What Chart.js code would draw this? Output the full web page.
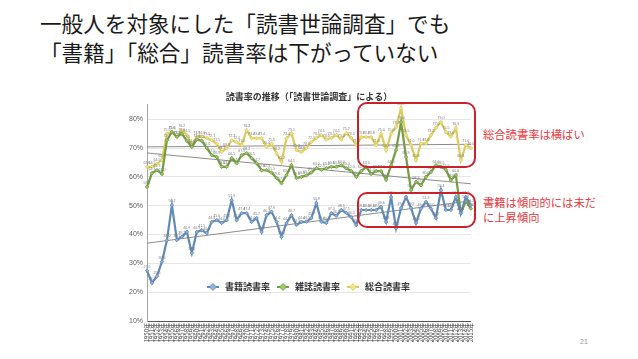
<!DOCTYPE html>
<html lang="ja">
<head>
<meta charset="utf-8">
<script src="https://cdn.jsdelivr.net/npm/chart.js@4.4.1/dist/chart.umd.min.js"></script>
<style>
  body { margin: 0; width: 638px; height: 359px; background: #fff; position: relative; overflow: hidden; font-family: "Noto Sans CJK JP", sans-serif; }
  .headline { position: absolute; left: 40px; font-size: 21.6px; line-height: 29px; color: #1a1a1a; white-space: nowrap; }
  #chartWrap { position: absolute; left: 110px; top: 86px; width: 370px; height: 264px; }
  .redbox { position: absolute; box-sizing: border-box; border: 2px solid #c8232c; border-radius: 10px; }
  .note { position: absolute; left: 483px; font-size: 11.3px; line-height: 15px; color: #e8383d; white-space: nowrap; }
  .pageno { position: absolute; left: 580px; top: 338px; font-size: 7px; color: #999; font-family: "Liberation Sans", sans-serif; }
</style>
</head>
<body>
<div class="headline" style="top:8px">一般人を対象にした「読書世論調査」でも</div>
<div class="headline" style="top:37px">「書籍」「総合」読書率は下がっていない</div>

<div id="chartWrap"><canvas id="readingChart" width="370" height="264"></canvas></div>

<div class="redbox" style="left:357px; top:102px; width:119px; height:66px;"></div>
<div class="redbox" style="left:357px; top:192px; width:119px; height:36px;"></div>
<div class="note" style="top:127px">総合読書率は横ばい</div>
<div class="note" style="top:195px">書籍は傾向的には未だ<br>に上昇傾向</div>
<div class="pageno">21</div>

<script>
const years = [
  '1950年', '1951年', '1952年', '1953年', '1954年', '1955年', '1956年', '1957年', '1958年', '1959年',
  '1960年', '1961年', '1962年', '1963年', '1964年', '1965年', '1966年', '1967年', '1968年', '1969年',
  '1970年', '1971年', '1972年', '1973年', '1974年', '1975年', '1976年', '1977年', '1978年', '1979年',
  '1980年', '1981年', '1982年', '1983年', '1984年', '1985年', '1986年', '1987年', '1988年', '1989年',
  '1990年', '1991年', '1992年', '1993年', '1994年', '1995年', '1996年', '1997年', '1998年', '1999年',
  '2000年', '2001年', '2002年', '2003年', '2004年', '2005年', '2006年', '2007年', '2008年', '2009年',
  '2010年', '2011年', '2012年', '2013年', '2014年', '2015年'
];

// 書籍読書率
const bookRate = [
  27.5, 23.2, 25.5, 30.6, 38.0, 50.2, 38.1, 39.2, 40.9, 33.6,
  40.9, 41.5, 40.5, 44.4, 45.0, 44.0, 45.0, 51.9, 45.0, 47.4,
  47.4, 44.4, 45.7, 40.9, 46.7, 47.9, 44.4, 39.2, 44.0, 46.7,
  43.3, 44.4, 44.5, 45.7, 50.9, 44.4, 44.0, 47.4, 46.5, 48.5,
  47.5, 46.0, 43.3, 48.5, 48.5, 48.5, 48.5, 49.6, 44.4, 53.0,
  42.2, 49.2, 53.0, 49.2, 44.0, 49.0, 51.3, 49.0, 45.7, 55.4,
  48.5, 48.5, 53.0, 47.4, 53.0, 50.2
];
// 雑誌読書率
const magazineRate = [
  56.5, 61.3, 62.3, 61.0, 72.7, 75.6, 73.9, 75.0, 72.5, 70.4,
  73.0, 72.5, 70.0, 67.5, 66.9, 63.5, 63.5, 66.5, 64.7, 67.5,
  68.2, 66.5, 64.7, 62.3, 62.3, 61.5, 59.6, 57.8, 60.6, 64.1,
  59.6, 60.0, 60.5, 61.5, 63.0, 62.5, 63.0, 63.5, 63.5, 64.0,
  63.0, 62.0, 60.0, 62.0, 63.5, 61.0, 62.0, 62.0, 59.0, 64.0,
  69.3, 79.0, 66.9, 55.4, 58.3, 57.1, 60.0, 61.7, 64.0, 63.5,
  62.5, 58.9, 60.6, 47.4, 51.6, 49.0
];
// 総合読書率
const totalRate = [
  63.5, 63.5, 64.5, 65.8, 75.0, 75.6, 73.9, 76.2, 74.5, 71.0,
  73.9, 74.0, 73.5, 72.7, 71.5, 68.7, 69.9, 72.7, 72.0, 71.0,
  76.2, 73.4, 73.4, 73.4, 70.4, 71.5, 68.2, 65.2, 73.4, 75.1,
  69.3, 68.6, 70.0, 72.1, 73.5, 74.5, 73.0, 73.5, 74.5, 73.0,
  75.2, 73.5, 71.0, 73.8, 73.8, 73.8, 71.0, 75.0, 69.3, 75.0,
  77.3, 83.8, 74.5, 71.0, 65.8, 71.6, 71.6, 74.5, 77.0, 79.0,
  75.5, 74.0, 76.9, 65.8, 71.0, 70.0
];

// 近似直線の始点と終点
const bookTrend = [37.0, 51.7];
const magazineTrend = [68.3, 57.6];
const totalTrend = [70.4, 71.3];

const yTicks = [10, 20, 30, 40, 50, 60, 70, 80];

function edgeLine(ends) {
  const arr = years.map(() => null);
  arr[0] = ends[0];
  arr[arr.length - 1] = ends[1];
  return arr;
}

function seriesSet(label, data, line, fill) {
  return {
    label, data,
    borderColor: line, backgroundColor: fill,
    borderWidth: 2.2, tension: 0,
    pointStyle: 'rectRot', pointRadius: 1.8,
    pointBorderColor: line, pointBackgroundColor: fill, pointBorderWidth: 0.8
  };
}

function trendSet(data) {
  return {
    label: 'trend', data, spanGaps: true,
    borderColor: '#8c8c8c', borderWidth: 1, pointRadius: 0, isTrend: true
  };
}

const valueLabels = {
  id: 'valueLabels',
  afterDatasetsDraw(chart) {
    const ctx = chart.ctx;
    ctx.save();
    ctx.font = '3.6px "Liberation Sans"';
    ctx.fillStyle = '#7a7a7a';
    ctx.textAlign = 'center';
    ctx.textBaseline = 'bottom';
    chart.data.datasets.forEach((ds, di) => {
      if (ds.isTrend) return;
      chart.getDatasetMeta(di).data.forEach((pt, i) => {
        ctx.fillText(ds.data[i].toFixed(1), pt.x, pt.y - 2);
      });
    });
    ctx.restore();
  }
};

const legendRow = {
  id: 'legendRow',
  afterDraw(chart) {
    const ctx = chart.ctx;
    const y = 201;
    const items = [[103, 0], [173, 1], [243, 2]];
    ctx.save();
    ctx.font = 'bold 9px "Noto Sans CJK JP"';
    ctx.textBaseline = 'middle';
    items.forEach(([x, di]) => {
      const ds = chart.data.datasets[di];
      ctx.strokeStyle = ds.borderColor;
      ctx.lineWidth = 2;
      ctx.beginPath();
      ctx.moveTo(x - 6, y);
      ctx.lineTo(x + 6, y);
      ctx.stroke();
      ctx.fillStyle = ds.backgroundColor;
      ctx.lineWidth = 0.8;
      ctx.beginPath();
      ctx.moveTo(x, y - 3.5);
      ctx.lineTo(x + 3.5, y);
      ctx.lineTo(x, y + 3.5);
      ctx.lineTo(x - 3.5, y);
      ctx.closePath();
      ctx.fill();
      ctx.stroke();
      ctx.fillStyle = '#333';
      ctx.fillText(ds.label, x + 12, y);
    });
    ctx.restore();
  }
};

new Chart(document.getElementById('readingChart'), {
  type: 'line',
  data: {
    labels: years,
    datasets: [
      seriesSet('書籍読書率', bookRate, '#6189b5', '#8fb3dd'),
      seriesSet('雑誌読書率', magazineRate, '#739c43', '#9cc96a'),
      seriesSet('総合読書率', totalRate, '#dccb5c', '#f0e48a'),
      trendSet(edgeLine(bookTrend)),
      trendSet(edgeLine(magazineTrend)),
      trendSet(edgeLine(totalTrend))
    ]
  },
  options: {
    responsive: false,
    animation: false,
    layout: { padding: { left: 0, right: 8, top: 0, bottom: 0 } },
    plugins: {
      legend: { display: false },
      tooltip: { enabled: false },
      title: {
        display: true,
        fullSize: false,
        text: '読書率の推移（「読書世論調査」による）',
        color: '#333',
        font: { family: '"Noto Sans CJK JP"', size: 9, weight: 'bold' },
        padding: { top: 5, bottom: 3 }
      }
    },
    scales: {
      x: {
        offset: false,
        afterFit: s => { s.height = 29; },
        grid: { display: false, drawTicks: false },
        border: { display: true, color: '#555', width: 1 },
        ticks: {
          autoSkip: false, minRotation: 90, maxRotation: 90, padding: 2,
          color: '#333', font: { family: '"Noto Sans CJK JP"', size: 6 }
        }
      },
      y: {
        min: 10, max: 85,
        afterBuildTicks: s => { s.ticks = yTicks.map(v => ({ value: v })); },
        afterFit: s => { s.width = 37; },
        grid: { color: '#e6e6e6', drawTicks: false },
        border: { display: true, color: '#a6a6a6', width: 1 },
        ticks: {
          padding: 4, color: '#595959',
          font: { family: '"Liberation Sans"', size: 7 },
          callback: v => v + '%'
        }
      }
    }
  },
  plugins: [valueLabels, legendRow]
});
</script>
</body>
</html>
